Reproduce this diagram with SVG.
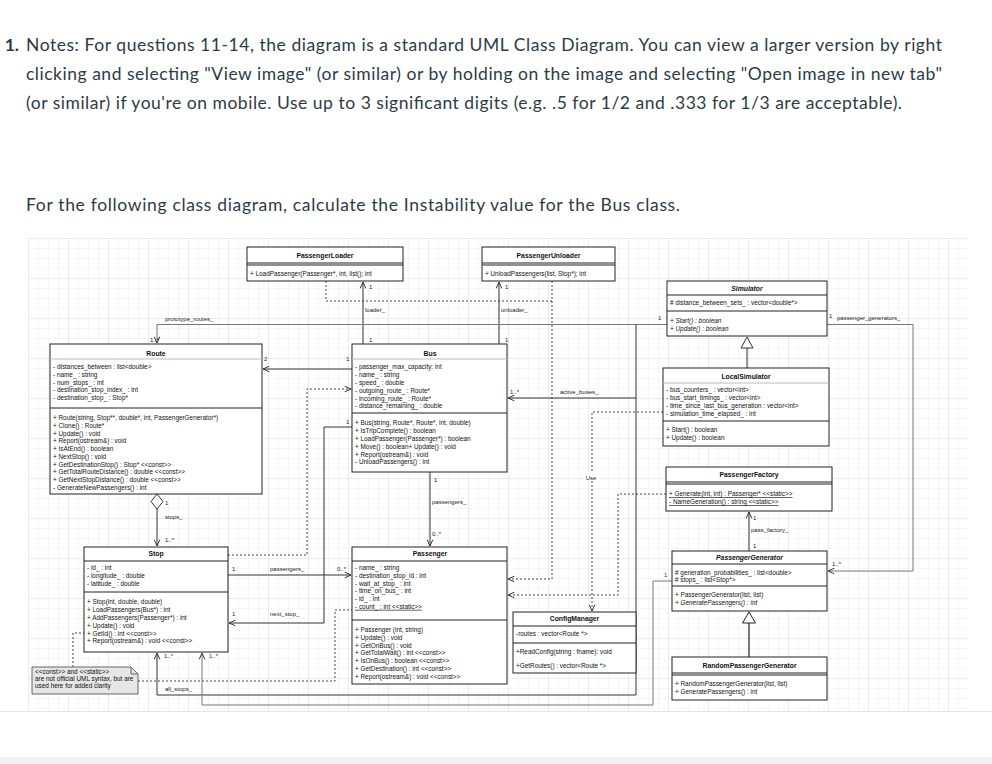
<svg xmlns="http://www.w3.org/2000/svg" width="992" height="764" viewBox="0 0 992 764">
<defs>
<style>
.q{font-family:Lato,"Open Sans","Liberation Sans",sans-serif;font-size:17.5px;fill:#2d3b45}
.t{font-family:"Liberation Sans",Arial,sans-serif;font-size:6.4px;fill:#111}
.h{font-family:"Liberation Sans",Arial,sans-serif;font-size:6.8px;font-weight:bold;fill:#111;text-anchor:middle}
.i{font-style:italic}
.u{text-decoration:underline}
.l{font-family:"Liberation Sans",Arial,sans-serif;font-size:6px;fill:#222}
.m{fill:#7a1010}
.box{fill:#fff;stroke:#222;stroke-width:1}
.sep{stroke:#222;stroke-width:1}
.lsep{stroke:#bbb;stroke-width:1}
.as{fill:none;stroke:#333;stroke-width:1}
.ag{fill:none;stroke:#777;stroke-width:1}
.dep{fill:none;stroke:#444;stroke-width:1;stroke-dasharray:2 2}
</style>
<pattern id="g" width="10" height="10" patternUnits="userSpaceOnUse" x="28" y="238"><path d="M10 0H0V10" fill="none" stroke="#eeeeee" stroke-width="1"/></pattern>
<pattern id="G" width="40" height="40" patternUnits="userSpaceOnUse" x="28" y="238"><path d="M40 0H0V40" fill="none" stroke="#e0e0e0" stroke-width="1"/></pattern>
<marker id="oa" viewBox="0 0 10 10" refX="10" refY="5" markerWidth="7" markerHeight="7" orient="auto" markerUnits="userSpaceOnUse"><path d="M1,1 L10,5 L1,9" fill="none" stroke="#333" stroke-width="1.4"/></marker>
</defs>
<rect width="992" height="764" fill="#fff"/>
<g id="question">
<text class="q" x="19" y="51" text-anchor="end" font-weight="bold">1.</text>
<text class="q" x="26" y="51" textLength="916" lengthAdjust="spacing">Notes: For questions 11-14, the diagram is a standard UML Class Diagram. You can view a larger version by right</text>
<text class="q" x="26" y="80" textLength="916" lengthAdjust="spacing">clicking and selecting "View image" (or similar) or by holding on the image and selecting "Open image in new tab"</text>
<text class="q" x="26" y="109" textLength="876" lengthAdjust="spacing">(or similar) if you're on mobile. Use up to 3 significant digits (e.g. .5 for 1/2 and .333 for 1/3 are acceptable).</text>
<text class="q" x="26" y="211" textLength="654" lengthAdjust="spacing">For the following class diagram, calculate the Instability value for the Bus class.</text>
</g>
<rect x="28" y="238" width="940" height="473" fill="url(#g)"/>
<rect x="28" y="238" width="940" height="473" fill="url(#G)"/>
<line x1="0" y1="711.5" x2="992" y2="711.5" stroke="#e6e6e6"/>
<rect x="0" y="757" width="992" height="7" fill="#f3f3f3"/>

<g id="connectors">
<path class="dep" d="M326,281 V301 H552"/>
<path class="dep" d="M552,281 V579 H508" marker-end="url(#oa)"/>
<path class="dep" d="M228,555 H307 V389 H351" marker-end="url(#oa)"/>
<path class="dep" d="M663,412 H592 V611" marker-end="url(#oa)"/>
<path class="dep" d="M666,494 H618 V595 H508" marker-end="url(#oa)"/>
<path class="dep" d="M73,667 V633 H84"/>
<path class="dep" d="M138,681 H335 V610 H352"/>
<path class="as" d="M363,344 V282" marker-end="url(#oa)"/>
<path class="as" d="M499,344 V282" marker-end="url(#oa)"/>
<path class="ag" d="M667,324.5 H157 V343" marker-end="url(#oa)"/>
<path class="as" d="M636,324.5 V398 H508" marker-end="url(#oa)"/>
<path class="as" d="M636,398 V695 H157 V653" marker-end="url(#oa)"/>
<path class="ag" d="M672,581 H653 V705 H202 V653" marker-end="url(#oa)"/>
<path class="ag" d="M827,324.5 H913 V571 H828" marker-end="url(#oa)"/>
<path class="as" d="M352,369 H263" marker-end="url(#oa)"/>
<path class="as" d="M352,427 H324 V623 H229" marker-end="url(#oa)"/>
<path class="as" d="M228,575 H351" marker-end="url(#oa)"/>
<path class="as" d="M430,472 V546" marker-end="url(#oa)"/>
<path class="as" d="M157,509 V546" marker-end="url(#oa)"/>
<polygon points="157,494 163,501.5 157,509 151,501.5" fill="#fff" stroke="#333"/>
<path class="as" d="M749,551 V512" marker-end="url(#oa)"/>
<line x1="747" y1="348" x2="747" y2="368" stroke="#333"/>
<polygon points="747,337 753,348 741,348" fill="#fff" stroke="#333"/>
<line x1="749" y1="623" x2="749" y2="657" stroke="#222" stroke-width="1.2"/>
<polygon points="749,612 755.5,623 742.5,623" fill="#fff" stroke="#222"/>
<text class="l" x="369" y="289">1</text>
<text class="l" x="365" y="312">loader_</text>
<text class="l" x="369" y="342">1</text>
<text class="l" x="505" y="289">1</text>
<text class="l" x="501" y="312">unloader_</text>
<text class="l" x="505" y="342">1</text>
<text class="l" x="165" y="321">prototype_routes_</text>
<text class="l" x="150" y="342">1..*</text>
<text class="l" x="658" y="320">1</text>
<text class="l" x="510" y="394">1..*</text>
<text class="l" x="560" y="394">active_buses_</text>
<text class="l m" x="164" y="658">1..*</text>
<text class="l" x="165" y="691">all_stops_</text>
<text class="l m" x="664" y="577">1</text>
<text class="l m" x="209" y="658">1..*</text>
<text class="l" x="829" y="318">1</text>
<text class="l" x="837" y="320">passenger_generators_</text>
<text class="l" x="832" y="566">1..*</text>
<text class="l" x="264" y="361">2</text>
<text class="l" x="346" y="361">1</text>
<text class="l" x="346" y="424">1</text>
<text class="l" x="232" y="571">1</text>
<text class="l" x="270" y="571">passengers_</text>
<text class="l" x="337" y="571">0..*</text>
<text class="l" x="232" y="616">1</text>
<text class="l" x="270" y="616">next_stop_</text>
<text class="l" x="434" y="482">1</text>
<text class="l" x="432" y="504">passengers_</text>
<text class="l" x="432" y="536">0..*</text>
<text class="l" x="165" y="505">1</text>
<text class="l" x="165" y="519">stops_</text>
<text class="l" x="165" y="542">1..*</text>
<text class="l" x="753" y="520">1</text>
<text class="l" x="751" y="532">pass_factory_</text>
<text class="l" x="753" y="548">1</text>
<rect x="583" y="473" width="16" height="8" fill="#fff"/>
<text class="l" x="591" y="479.5" text-anchor="middle">Use</text>
</g>

<g id="PassengerLoader">
<rect class="box" x="247" y="247" width="156" height="34"/>
<text class="h" x="325" y="258.3">PassengerLoader</text>
<line class="sep" x1="247" y1="263" x2="403" y2="263"/><line class="sep" x1="247" y1="265" x2="403" y2="265"/>
<text class="t" x="250" y="276.3">+ LoadPassenger(Passenger*, int, list(); int</text>
</g>
<g id="PassengerUnloader">
<rect class="box" x="482" y="247" width="133" height="34"/>
<text class="h" x="548.5" y="258.3">PassengerUnloader</text>
<line class="sep" x1="482" y1="263" x2="615" y2="263"/><line class="sep" x1="482" y1="265" x2="615" y2="265"/>
<text class="t" x="485" y="276.3">+ UnloadPassengers(list, Stop*); int</text>
</g>
<g id="Simulator">
<rect class="box" x="667" y="281" width="160" height="55"/>
<text class="h i" x="747" y="291.3">Simulator</text>
<line class="sep" x1="667" y1="295" x2="827" y2="295"/>
<text class="t" x="670" y="305.3"># distance_between_sets_ : vector&lt;double*&gt;</text>
<line class="sep" x1="667" y1="311" x2="827" y2="311"/>
<text class="t i" x="670" y="323.3">+ Start() : boolean</text>
<text class="t i" x="670" y="330.8">+ Update() : boolean</text>
</g>
<g id="Route">
<rect class="box" x="50" y="344" width="212" height="150"/>
<text class="h" x="156" y="355.5">Route</text>
<line class="lsep" x1="50" y1="359" x2="262" y2="359"/>
<text class="t" x="53" y="369.3">- distances_between : list&lt;double&gt;</text>
<text class="t" x="53" y="377">- name_ : string</text>
<text class="t" x="53" y="384.7">- num_stops_ : int</text>
<text class="t" x="53" y="392.4">- destination_stop_index_ : int</text>
<text class="t" x="53" y="400.1">- destination_stop_ : Stop*</text>
<line class="sep" x1="50" y1="408" x2="262" y2="408"/>
<text class="t" x="53" y="420.3">+ Route(string, Stop**, double*, int, PassengerGenerator*)</text>
<text class="t" x="53" y="428">+ Clone() : Route*</text>
<text class="t" x="53" y="435.7">+ Update() : void</text>
<text class="t" x="53" y="443.4">+ Report(ostream&amp;) : void</text>
<text class="t" x="53" y="451.1">+ IsAtEnd() : boolean</text>
<text class="t" x="53" y="458.8">+ NextStop() : void</text>
<text class="t" x="53" y="466.5">+ GetDestinationStop() : Stop* &lt;&lt;const&gt;&gt;</text>
<text class="t" x="53" y="474.2">+ GetTotalRouteDistance() : double &lt;&lt;const&gt;&gt;</text>
<text class="t" x="53" y="481.9">+ GetNextStopDistance() : double &lt;&lt;const&gt;&gt;</text>
<text class="t" x="53" y="489.6">- GenerateNewPassengers() : int</text>
</g>
<g id="Bus">
<rect class="box" x="352" y="344" width="155" height="128"/>
<text class="h" x="430" y="355.5">Bus</text>
<line class="lsep" x1="352" y1="359" x2="507" y2="359"/>
<text class="t" x="355" y="369.3">- passenger_max_capacity: int</text>
<text class="t" x="355" y="377.1">- name_ : string</text>
<text class="t" x="355" y="384.9">- speed_ : double</text>
<text class="t" x="355" y="392.7">- outgoing_route_ : Route*</text>
<text class="t" x="355" y="400.5">- incoming_route_ : Route*</text>
<text class="t" x="355" y="408.3">- distance_remaining_ : double</text>
<line class="sep" x1="352" y1="413" x2="507" y2="413"/>
<text class="t" x="355" y="425.3">+ Bus(string, Route*, Route*, int, double)</text>
<text class="t" x="355" y="433.1">+ IsTripComplete() : boolean</text>
<text class="t" x="355" y="440.9">+ LoadPassenger(Passenger*) : boolean</text>
<text class="t" x="355" y="448.7">+ Move() : boolean+ Update() : void</text>
<text class="t" x="355" y="456.5">+ Report(ostream&amp;) : void</text>
<text class="t" x="355" y="464.3">- UnloadPassengers() : int</text>
</g>
<g id="LocalSimulator">
<rect class="box" x="663" y="368" width="166" height="78"/>
<text class="h" x="746" y="379.3">LocalSimulator</text>
<line class="lsep" x1="663" y1="383" x2="829" y2="383"/>
<text class="t" x="666" y="392.3">- bus_counters_ : vector&lt;int&gt;</text>
<text class="t" x="666" y="400.1">- bus_start_timings_ : vector&lt;int&gt;</text>
<text class="t" x="666" y="407.9">- time_since_last_bus_generation : vector&lt;int&gt;</text>
<text class="t" x="666" y="415.7">- simulation_time_elapsed_ : int</text>
<line class="sep" x1="663" y1="421" x2="829" y2="421"/>
<text class="t" x="666" y="432.3">+ Start() : boolean</text>
<text class="t" x="666" y="440.3">+ Update() : boolean</text>
</g>
<g id="PassengerFactory">
<rect class="box" x="666" y="467" width="166" height="44" stroke="#666"/>
<text class="h" x="749" y="477.3">PassengerFactory</text>
<line class="sep" x1="666" y1="482" x2="832" y2="482"/><line class="sep" x1="666" y1="484" x2="832" y2="484"/>
<text class="t u" x="669" y="496.3">+ Generate(int, int) : Passenger* &lt;&lt;static&gt;&gt;</text>
<text class="t u" x="669" y="504.3">- NameGeneration() : string &lt;&lt;static&gt;&gt;</text>
</g>
<g id="Stop">
<rect class="box" x="84" y="547" width="144" height="105"/>
<text class="h" x="156" y="556.3">Stop</text>
<line class="sep" x1="84" y1="561" x2="228" y2="561"/>
<text class="t" x="87" y="570.3">- id_ : int</text>
<text class="t" x="87" y="578.1">- longitude_ : double</text>
<text class="t" x="87" y="585.9">- latitude_ : double</text>
<line class="sep" x1="84" y1="592" x2="228" y2="592"/>
<text class="t" x="87" y="604.3">+ Stop(int, double, double)</text>
<text class="t" x="87" y="612.1">+ LoadPassengers(Bus*) : int</text>
<text class="t" x="87" y="619.9">+ AddPassengers(Passenger*) : int</text>
<text class="t" x="87" y="627.7">+ Update() : void</text>
<text class="t" x="87" y="635.5">+ GetId() : int &lt;&lt;const&gt;&gt;</text>
<text class="t" x="87" y="643.3">+ Report(ostream&amp;) : void &lt;&lt;const&gt;&gt;</text>
</g>
<g id="Passenger">
<rect class="box" x="352" y="547" width="155" height="137" stroke="#777"/>
<text class="h" x="430" y="556.3">Passenger</text>
<line class="sep" x1="352" y1="561" x2="507" y2="561"/>
<text class="t" x="355" y="570.3">- name_ : string</text>
<text class="t" x="355" y="578">- destination_stop_id : int</text>
<text class="t" x="355" y="585.7">- wait_at_stop_ : int</text>
<text class="t" x="355" y="593.4">- time_on_bus_ : int</text>
<text class="t" x="355" y="601.1">- id_ : int</text>
<text class="t u" x="355" y="608.8">- count_ : int &lt;&lt;static&gt;&gt;</text>
<line class="sep" x1="352" y1="620" x2="507" y2="620"/>
<text class="t" x="355" y="632.3">+ Passenger (int, string)</text>
<text class="t" x="355" y="640">+ Update() : void</text>
<text class="t" x="355" y="647.7">+ GetOnBus() : void</text>
<text class="t" x="355" y="655.4">+ GetTotalWait() : int &lt;&lt;const&gt;&gt;</text>
<text class="t" x="355" y="663.1">+ IsOnBus() : boolean &lt;&lt;const&gt;&gt;</text>
<text class="t" x="355" y="670.8">+ GetDestination() : int &lt;&lt;const&gt;&gt;</text>
<text class="t" x="355" y="678.5">+ Report(ostream&amp;) : void &lt;&lt;const&gt;&gt;</text>
</g>
<g id="ConfigManager">
<rect class="box" x="513" y="612" width="123" height="61"/>
<text class="h" x="574.5" y="621.3">ConfigManager</text>
<line class="sep" x1="513" y1="626" x2="636" y2="626"/>
<text class="t" x="516" y="635.5">-routes : vector&lt;Route *&gt;</text>
<line class="sep" x1="513" y1="643" x2="636" y2="643"/>
<text class="t" x="516" y="654">+ReadConfig(string : fname): void</text>
<text class="t" x="516" y="668">+GetRoutes() : vector&lt;Route *&gt;</text>
</g>
<g id="PassengerGenerator">
<rect class="box" x="672" y="551" width="155" height="60"/>
<text class="h i" x="749.5" y="560.3">PassengerGenerator</text>
<line class="sep" x1="672" y1="564" x2="827" y2="564"/>
<text class="t" x="675" y="575.3"># generation_probabilities_ : list&lt;double&gt;</text>
<text class="t" x="675" y="582.3"># stops_ : list&lt;Stop*&gt;</text>
<line class="sep" x1="672" y1="586" x2="827" y2="586"/>
<text class="t" x="675" y="597.3">+ PassengerGenerator(list, list)</text>
<text class="t i" x="675" y="605.3">+ GeneratePassengers() : int</text>
</g>
<g id="RandomPassengerGenerator">
<rect class="box" x="672" y="657" width="155" height="43" stroke="#777"/>
<text class="h" x="749.5" y="668.3">RandomPassengerGenerator</text>
<line class="sep" x1="672" y1="673" x2="827" y2="673"/><line class="sep" x1="672" y1="675" x2="827" y2="675"/>
<text class="t" x="675" y="686.3">+ RandomPassengerGenerator(list, list)</text>
<text class="t" x="675" y="694.3">+ GeneratePassengers() : int</text>
</g>
<g id="note">
<path d="M32,667 H131 L138,674 V694 H32 Z" fill="#e6e6e6" stroke="#666"/>
<path d="M131,667 V674 H138" fill="none" stroke="#666"/>
<text class="t" x="35" y="673.5" font-size="5.8">&lt;&lt;const&gt;&gt; and &lt;&lt;static&gt;&gt;</text>
<text class="t" x="35" y="680.5" font-size="5.8">are not official UML syntax, but are</text>
<text class="t" x="35" y="687.5" font-size="5.8">used here for added clarity</text>
</g>
</svg>
